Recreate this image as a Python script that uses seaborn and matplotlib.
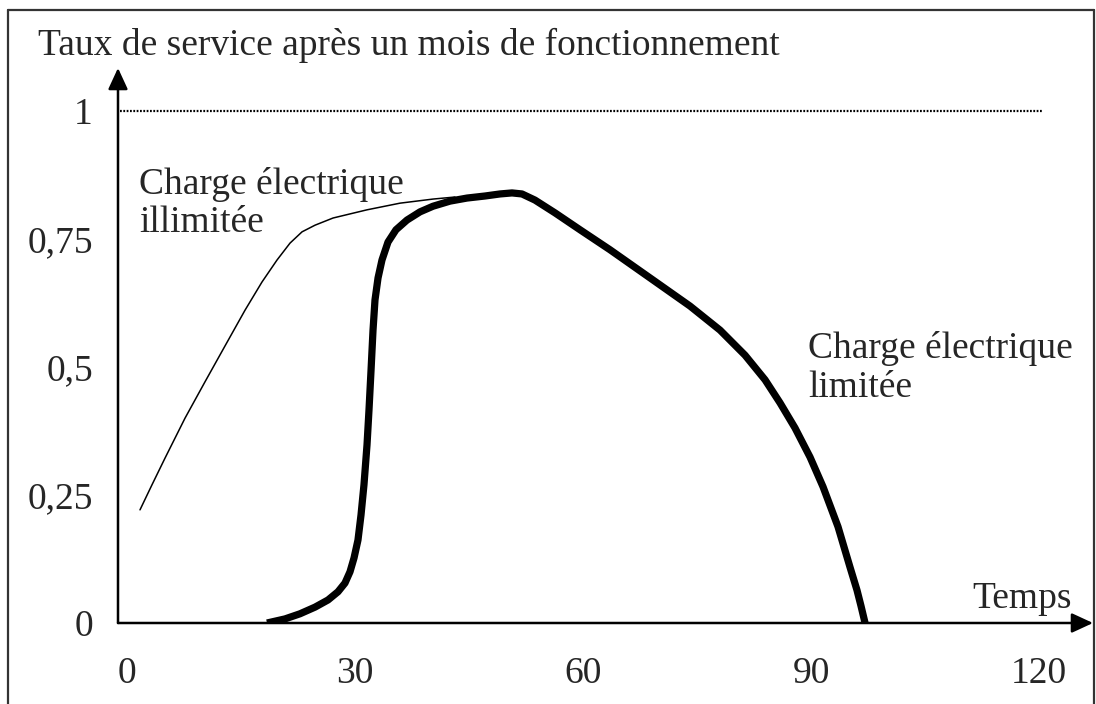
import matplotlib
matplotlib.use("Agg")
import matplotlib.pyplot as plt
import seaborn as sns
import pandas as pd
from matplotlib.lines import Line2D

# ---- data ----
temps_illimitee = [1.71, 3.29, 5.00, 7.63, 10.26, 12.89, 15.53, 17.76, 19.74, 21.45, 23.03,
                   24.74, 27.11, 29.34, 31.58, 35.92, 40.26, 43.16]
taux_illimitee = [0.221, 0.270, 0.322, 0.400, 0.471, 0.541, 0.611, 0.666, 0.709, 0.742, 0.764,
                  0.777, 0.791, 0.799, 0.807, 0.820, 0.828, 0.832]

temps_limitee = [18.42, 20.79, 22.76, 24.74, 26.45, 27.76, 28.68, 29.34, 29.87, 30.39, 30.79,
                 31.18, 31.58, 31.84, 32.11, 32.37, 32.63, 33.03, 33.55, 34.34, 35.39, 36.84,
                 38.55, 40.26, 42.50, 44.74, 47.11, 49.08, 50.66, 51.97, 53.68, 56.32, 59.61,
                 63.55, 68.82, 74.08, 78.03, 81.32, 83.95, 85.92, 87.89, 89.87, 91.58, 93.55,
                 95.13, 96.05, 96.58, 97.11]
taux_limitee = [0.0, 0.008, 0.018, 0.031, 0.045, 0.061, 0.078, 0.100, 0.127, 0.162, 0.211,
                0.270, 0.348, 0.416, 0.494, 0.572, 0.631, 0.674, 0.709, 0.744, 0.768, 0.787,
                0.803, 0.814, 0.824, 0.830, 0.834, 0.838, 0.840, 0.838, 0.826, 0.801, 0.768,
                0.729, 0.674, 0.619, 0.572, 0.523, 0.475, 0.430, 0.381, 0.324, 0.266, 0.188,
                0.109, 0.064, 0.033, 0.0]

x_ticks = [0, 30, 60, 90, 120]
x_tick_labels = ["0", "30", "60", "90", "120"]
y_ticks = [0, 0.25, 0.5, 0.75, 1]
y_tick_labels = ["0", "0,25", "0,5", "0,75", "1"]

titre = "Taux de service après un mois de fonctionnement"
label_x = "Temps"
label_illimitee = "Charge électrique\nillimitée"
label_limitee = "Charge électrique\nlimitée"

# ---- style ----
sns.set_style("white")
plt.rcParams["font.family"] = ["Liberation Serif", "DejaVu Serif"]
FS = 27

W, H = 1096, 704
fig = plt.figure(figsize=(W / 100, H / 100), dpi=100)
ax = fig.add_axes([118 / W, (H - 623) / H, (1093 - 118) / W, (623 - 68) / H])
ax.set_xlim(-1.184, 127.1)
ax.set_ylim(0, 1.084)
for s in ax.spines.values():
    s.set_visible(False)

df_i = pd.DataFrame({"t": temps_illimitee, "v": taux_illimitee})
df_l = pd.DataFrame({"t": temps_limitee, "v": taux_limitee})

# dotted reference line at 1
ax.plot([-0.9, 120.4], [1, 1], color="black", lw=1.6, linestyle=(0, (0.8, 0.7)))

sns.lineplot(data=df_i, x="t", y="v", sort=False, estimator=None, ax=ax,
             color="black", lw=1.1, solid_joinstyle="round")
sns.lineplot(data=df_l, x="t", y="v", sort=False, estimator=None, ax=ax,
             color="black", lw=5.2, solid_joinstyle="round", solid_capstyle="butt")

# axes with arrows
arrow = dict(arrowstyle="-|>,head_length=0.65,head_width=0.3", mutation_scale=20,
             lw=1.8, color="black", shrinkA=0, shrinkB=0)
ax.annotate("", xy=(1, 0), xytext=(0, 0), xycoords="axes fraction", arrowprops=arrow)
ax.annotate("", xy=(0, 1), xytext=(0, 0), xycoords="axes fraction", arrowprops=arrow)

ax.set_xticks(x_ticks)
ax.set_xticklabels(x_tick_labels)
ax.set_yticks(y_ticks)
ax.set_yticklabels(y_tick_labels)
ax.tick_params(axis="both", length=0, labelsize=FS)
ax.tick_params(axis="x", pad=24)
ax.tick_params(axis="y", pad=18)
ax.set_xlabel("")
ax.set_ylabel("")

ax.text(124.3, 0.029, label_x, ha="right", va="baseline", fontsize=FS)
# va="baseline" on multi-line text aligns the last line's baseline
ax.text(1.6, 0.764, label_illimitee, ha="left", va="baseline", fontsize=FS, linespacing=1.13)
ax.text(89.6, 0.441, label_limitee, ha="left", va="baseline", fontsize=FS, linespacing=1.17)

fig.text(38 / W, (H - 55) / H, titre, ha="left", va="baseline", fontsize=FS)

# outer frame
fc = "#333333"
fig.add_artist(Line2D([8 / W, 8 / W], [0, (H - 10) / H], color=fc, lw=1.6))
fig.add_artist(Line2D([8 / W, 1094 / W], [(H - 10) / H, (H - 10) / H], color=fc, lw=1.6))
fig.add_artist(Line2D([1094 / W, 1094 / W], [0, (H - 10) / H], color=fc, lw=1.6))

fig.savefig("out.png", dpi=100)
